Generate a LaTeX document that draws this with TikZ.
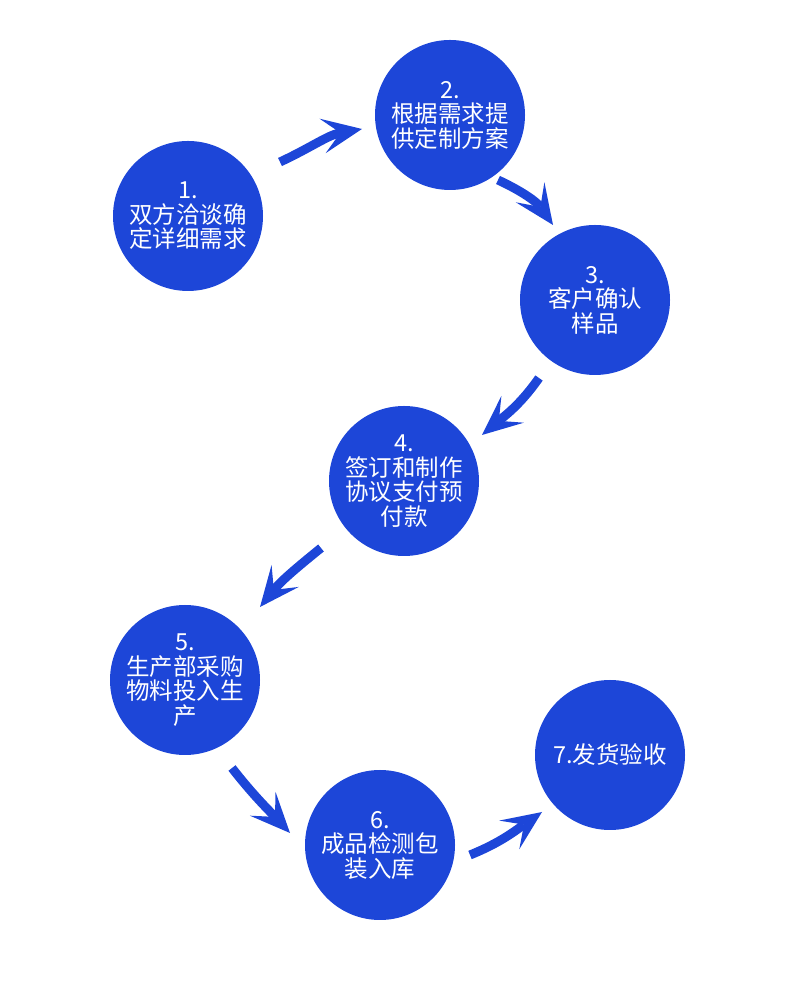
\documentclass[tikz,border=0pt]{standalone}
\usepackage{fontspec}
\setmainfont{Noto Sans CJK SC}
\usetikzlibrary{arrows.meta}
\definecolor{stageblue}{RGB}{29,70,216}
\newcommand{\stagenode}[3]{\node(#1)[stage] at (#2) {#3};}

\begin{document}
\begin{tikzpicture}[
        x=1pt, y=1pt,
        stage/.style={circle,minimum size=150pt,inner sep=0pt,fill=stageblue,
                      text=white,align=center,
                      font=\fontsize{23.5}{24.5}\selectfont},
        flow/.style={draw=stageblue,line width=9pt,
                     -{Stealth[length=40pt,width=35pt,inset=18pt,line width=0pt]}}
      ]
      \useasboundingbox (0,0) rectangle (790,987);
      \stagenode{s1}{188,771}{1.\\双方洽谈确\\定详细需求}
      \stagenode{s2}{450,872}{2.\\根据需求提\\供定制方案}
      \stagenode{s3}{595,687}{3.\\客户确认\\样品}
      \stagenode{s4}{404,506}{4.\\签订和制作\\协议支付预\\付款}
      \stagenode{s5}{185,307}{5.\\生产部采购\\物料投入生\\产}
      \stagenode{s6}{380,142}{6.\\成品检测包\\装入库}
      \stagenode{s7}{610,232}{7.发货验收}
      % arrow tails and tips
      \coordinate (t1) at (280,825); \coordinate (h1) at (362,858);
      \coordinate (t2) at (498,807); \coordinate (h2) at (553,762);
      \coordinate (t3) at (539,609); \coordinate (h3) at (482,552);
      \coordinate (t4) at (321,439); \coordinate (h4) at (260,380);
      \coordinate (t5) at (232,219); \coordinate (h5) at (290,154);
      \coordinate (t6) at (470,132); \coordinate (h6) at (542,175);
      \draw[flow] (t1) to[out=25,in=190] (h1);
      \draw[flow] (t2) to[out=-25,in=125] (h2);
      \draw[flow] (t3) to[out=235,in=40] (h3);
      \draw[flow] (t4) to[out=219,in=51] (h4);
      \draw[flow] (t5) to[out=-52,in=133] (h5);
      \draw[flow] (t6) to[out=22,in=215] (h6);
    \end{tikzpicture}
\end{document}
